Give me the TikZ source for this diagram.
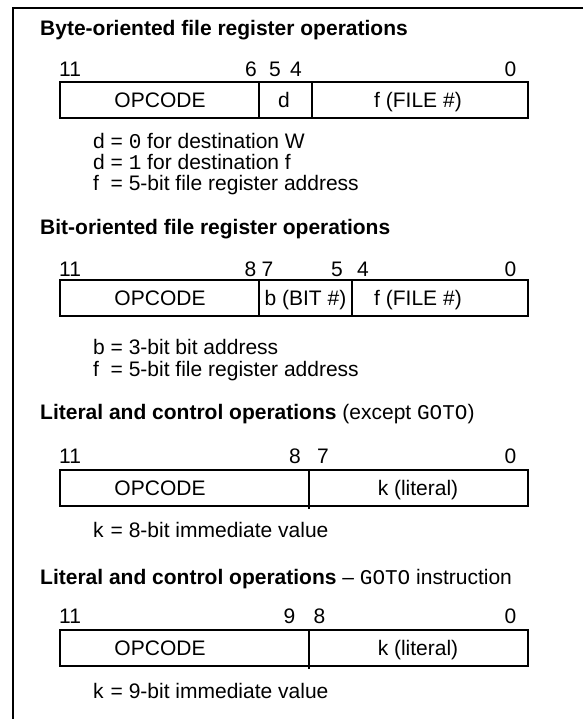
\documentclass[tikz,border=0pt]{standalone}
\usepackage{fontspec}
\setmainfont{Liberation Sans}
\setmonofont{Liberation Mono}
\begin{document}
\begin{tikzpicture}[x=1pt,y=-1pt,
  font=\fontsize{21}{24}\selectfont,
  cell/.style={draw, line width=2pt, minimum height=36pt, inner sep=0pt, outer sep=0pt, anchor=north west},
  txt/.style={inner sep=0pt, anchor=base},
  lft/.style={inner sep=0pt, anchor=base west},
  rgt/.style={inner sep=0pt, anchor=base east},
  frame/.style={line width=2.2pt}]
\useasboundingbox (0,0) rectangle (583,719);
% frame
\coordinate (fTR) at (583,8);
\coordinate (fTL) at (13,8);
\coordinate (fBL) at (13,719);
\draw[frame] (fTR) -- (fTL) -- (fBL);

% ---------- Section 1 ----------
\node[lft] (t1) at (40,36) {\textbf{Byte-oriented file register operations}};
\node[lft] (n1a) at (59,77) {11};
\node[rgt] (n1b) at (257,77) {6};
\node[txt] (n1c) at (275,77) {5};
\node[txt] (n1d) at (296,77) {4};
\node[rgt] (n1e) at (516.5,77) {0};
\node[cell, minimum width=199pt] (c1a) at (60,82) {};
\node[cell, minimum width=53pt] (c1b) at (259,82) {};
\node[cell, minimum width=216pt] (c1c) at (312,82) {};
\node[txt] (x1a) at (160,107.5) {OPCODE};
\node[txt] (x1b) at (284,107.5) {d};
\node[txt] (x1c) at (418,107.5) {f (FILE \#)};
\node[lft] (l1a) at (93,149) {d = \texttt{0} for destination W};
\node[lft] (l1b) at (93,170) {d = \texttt{1} for destination f};
\node[lft] (l1c) at (93,191) {\rlap{f}\phantom{d} = 5-bit file register address};

% ---------- Section 2 ----------
\node[lft] (t2) at (40,234) {\textbf{Bit-oriented file register operations}};
\node[lft] (n2a) at (59,276) {11};
\node[rgt] (n2b) at (256.5,276) {8};
\node[lft] (n2c) at (261.5,276) {7};
\node[rgt] (n2d) at (343,276) {5};
\node[lft] (n2e) at (357,276) {4};
\node[rgt] (n2f) at (516.5,276) {0};
\node[cell, minimum width=199pt] (c2a) at (60,280) {};
\node[cell, minimum width=93pt] (c2b) at (259,280) {};
\node[cell, minimum width=176pt] (c2c) at (352,280) {};
\node[txt] (x2a) at (160,305.5) {OPCODE};
\node[txt] (x2b) at (305.5,305.5) {b (BIT \#)};
\node[txt] (x2c) at (418,305.5) {f (FILE \#)};
\node[lft] (l2a) at (93,354) {b = 3-bit bit address};
\node[lft] (l2b) at (93,376) {\rlap{f}\phantom{b} = 5-bit file register address};

% ---------- Section 3 ----------
\node[lft] (t3) at (40,419) {\textbf{Literal and control operations} (except \texttt{GOTO})};
\node[lft] (n3a) at (59,463) {11};
\node[rgt] (n3b) at (301,463) {8};
\node[lft] (n3c) at (317,463) {7};
\node[rgt] (n3d) at (516.5,463) {0};
\node[cell, minimum width=249pt] (c3a) at (60,470) {};
\node[cell, minimum width=219pt] (c3b) at (309,470) {};
\draw[line width=2pt] (c3a.south east) -- ++(0,3);
\node[txt] (x3a) at (160,495.5) {OPCODE};
\node[txt] (x3b) at (418,495.5) {k (literal)};
\node[lft] (l3a) at (93,537) {\rlap{k}\phantom{d} = 8-bit immediate value};

% ---------- Section 4 ----------
\node[lft] (t4) at (40,584) {\textbf{Literal and control operations} -- \texttt{GOTO} instruction};
\node[lft] (n4a) at (59,623) {11};
\node[rgt] (n4b) at (295.5,623) {9};
\node[lft] (n4c) at (313.5,623) {8};
\node[rgt] (n4d) at (516.5,623) {0};
\node[cell, minimum width=249pt] (c4a) at (60,630) {};
\node[cell, minimum width=219pt] (c4b) at (309,630) {};
\draw[line width=2pt] (c4a.south east) -- ++(0,3);
\node[txt] (x4a) at (160,655.5) {OPCODE};
\node[txt] (x4b) at (418,655.5) {k (literal)};
\node[lft] (l4a) at (93,698) {\rlap{k}\phantom{d} = 9-bit immediate value};
\end{tikzpicture}
\end{document}
